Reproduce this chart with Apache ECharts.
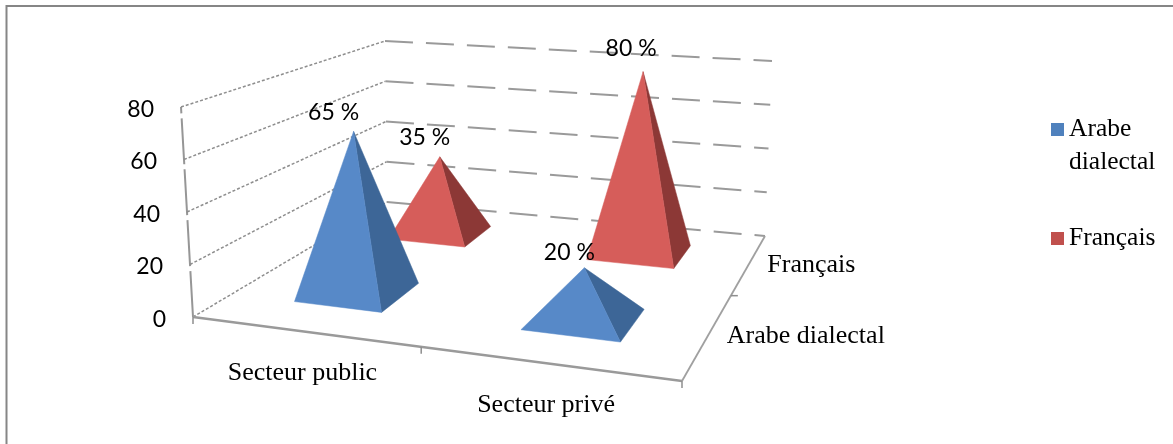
<!DOCTYPE html>
<html><head><meta charset="utf-8">
<style>html,body{margin:0;padding:0;background:#fff}#c{width:1173px;height:444px}</style>
<script src="https://cdn.jsdelivr.net/npm/echarts@6/dist/echarts.min.js"></script>
</head><body><div id="c"></div>
<script>
const categories = ['Secteur public', 'Secteur privé'];
const seriesNames = ['Arabe dialectal', 'Français'];
const arabeValues = [65, 20];
const francaisValues = [35, 80];
const valueTicks = [0, 20, 40, 60, 80];
const colors = { blue: '#5789C8', blueDark: '#3D6697', red: '#D65D5A', redDark: '#8C3836' };

// Perspective box of the 3D chart: floor and ceiling corners of the plot volume
const box = {
  floor: { A: [193, 317], B: [682, 381], C: [765, 236], D: [387, 202] },
  top:   { A: [181, 107], B: [688, 154], C: [772, 61],  D: [385, 41] },
  ku: 0.875, kv: 1.43
};
// Hand placement of the data labels, [series][category] -> pixel nudge
const labelNudge = [[[-5, 0], [0, 4]], [[0, 0], [3, -4]]];
const persp = (t, k) => t * k / (1 + (k - 1) * t);
const bil = (q, u, v) => [0, 1].map(i =>
  (1 - v) * ((1 - u) * q.A[i] + u * q.B[i]) + v * ((1 - u) * q.D[i] + u * q.C[i]));
function warp(u, v, t) {
  const uu = persp(u, box.ku), vv = persp(v, box.kv);
  const f = bil(box.floor, uu, vv), c = bil(box.top, uu, vv);
  return [f[0] + (c[0] - f[0]) * t, f[1] + (c[1] - f[1]) * t];
}
// Library scales -> normalised box coordinates
function toU(params, api, cat) { const s = params.coordSys; return (api.coord([cat, 0])[0] - s.x) / s.width; }
function toT(params, api, val) { const s = params.coordSys; return (s.y + s.height - api.coord([0, val])[1]) / s.height; }

const line = (a, b, stroke, width, dash, z2) => ({
  type: 'line', z2: z2 || 1,
  shape: { x1: a[0], y1: a[1], x2: b[0], y2: b[1] },
  style: { stroke, lineWidth: width, lineDash: dash || null, fill: null }
});
const poly = (pts, fill) => ({ type: 'polygon', shape: { points: pts }, style: { fill, stroke: fill, lineWidth: 0.5 } });
const text = (x, y, str, font, align) => ({
  type: 'text', z2: 10,
  style: { x, y, text: str, font, fill: '#000', align: align || 'center', verticalAlign: 'middle' }
});
const SANS = '23px Lato', SERIF = '26px "Liberation Serif"';

function renderFrame(params, api) {
  const val = api.value(0), t = toT(params, api, val);
  const kids = [
    line(warp(0, 0, t), warp(0, 1, t), '#8e8e8e', 1.5, [3, 2]),
    line(warp(0, 1, t), warp(1, 1, t), '#9a9a9a', 2, [28, 13])
  ];
  const p = warp(0, 0, t);
  kids.push(text(p[0] - 27, p[1] + 2.5, String(val), SANS, 'right'));
  if (params.dataIndex === 0) {
    kids.push(line(warp(0, 0, 0), warp(0, 0, 1), '#969696', 2, [46, 5]));
    kids.push(line(warp(0, 0, 0), warp(1, 0, 0), '#9a9a9a', 2.5));
    kids.push(line(warp(1, 0, 0), warp(1, 1, 0), '#a0a0a0', 1.8));
    [0, 0.5, 1].forEach(u => {
      const q = warp(u, 0, 0);
      kids.push(line(q, [q[0], q[1] + 7], '#8e8e8e', 1.5));
    });
    [0.5].forEach(v => {
      const q = warp(1, v, 0);
      kids.push(line(q, [q[0] + 7, q[1]], '#8e8e8e', 1.5));
    });
    categories.forEach((c, i) => {
      const q = warp(toU(params, api, i), 0, 0);
      kids.push(text(q[0] - 1, q[1] + 42, c, SERIF));
    });
    seriesNames.forEach((s, j) => {
      const q = warp(1, (j + 0.5) / seriesNames.length, 0);
      kids.push(text(q[0] + 18, q[1] + 2, s, SERIF, 'left'));
    });
  }
  return { type: 'group', children: kids };
}

function pyramid(depthIndex, front, side) {
  return function (params, api) {
    const cat = api.value(0), val = api.value(1);
    const u = toU(params, api, cat), t = toT(params, api, val);
    const v = (depthIndex + 0.5) / seriesNames.length;
    const half = 0.1;
    const fl = warp(u - half, v - half, 0), fr = warp(u + half, v - half, 0), br = warp(u + half, v + half, 0);
    const apex = warp(u, v, t);
    const nudge = labelNudge[depthIndex][cat];
    return { type: 'group', children: [
      poly([fr, br, apex], side),
      poly([fl, fr, apex], front),
      text(apex[0] - 15 + nudge[0], apex[1] - 19 + nudge[1], val + ' %', SANS)
    ] };
  };
}
const rows = vals => vals.map((v, i) => [i, v]);

const chart = echarts.init(document.getElementById('c'), null, { renderer: 'canvas' });
chart.setOption({
  animation: false,
  backgroundColor: '#fff',
  grid: { left: 0, top: 0, width: 1173, height: 444 },
  xAxis: { type: 'category', data: categories, show: false },
  yAxis: { type: 'value', min: 0, max: 80, interval: 20, show: false },
  legend: {
    orient: 'vertical', left: 1051, top: 115, padding: 0, itemWidth: 13, itemHeight: 13, itemGap: 80,
    icon: 'rect', selectedMode: false,
    textStyle: { fontFamily: 'Liberation Serif', fontSize: 25.5, color: '#000', lineHeight: 29 },
    formatter: n => n.split(' ')[0],
    data: seriesNames
  },
  graphic: [{
    type: 'polyline',
    shape: { points: [[6.5, 444], [6.5, 6], [1173, 6]] },
    style: { stroke: '#868686', lineWidth: 2, fill: null }
  }, {
    type: 'text', left: 1069, top: 149,
    style: { text: seriesNames[0].split(' ')[1], font: '25.5px "Liberation Serif"', fill: '#000' }
  }],
  series: [
    { type: 'custom', z: 1, silent: true, clip: false, coordinateSystem: 'cartesian2d',
      data: valueTicks.map(v => [0, v]), encode: { x: 0, y: 1 },
      renderItem: (p, a) => { const s = a.value(1);
        const api = { value: () => s, coord: a.coord };
        return renderFrame(p, api); } },
    { type: 'custom', z: 2, name: seriesNames[1], silent: true, clip: false,
      itemStyle: { color: '#C0504D' }, data: rows(francaisValues), encode: { x: 0, y: 1 },
      renderItem: pyramid(1, colors.red, colors.redDark) },
    { type: 'custom', z: 3, name: seriesNames[0], silent: true, clip: false,
      itemStyle: { color: '#4F81BD' }, data: rows(arabeValues), encode: { x: 0, y: 1 },
      renderItem: pyramid(0, colors.blue, colors.blueDark) }
  ]
});
</script></body></html>
